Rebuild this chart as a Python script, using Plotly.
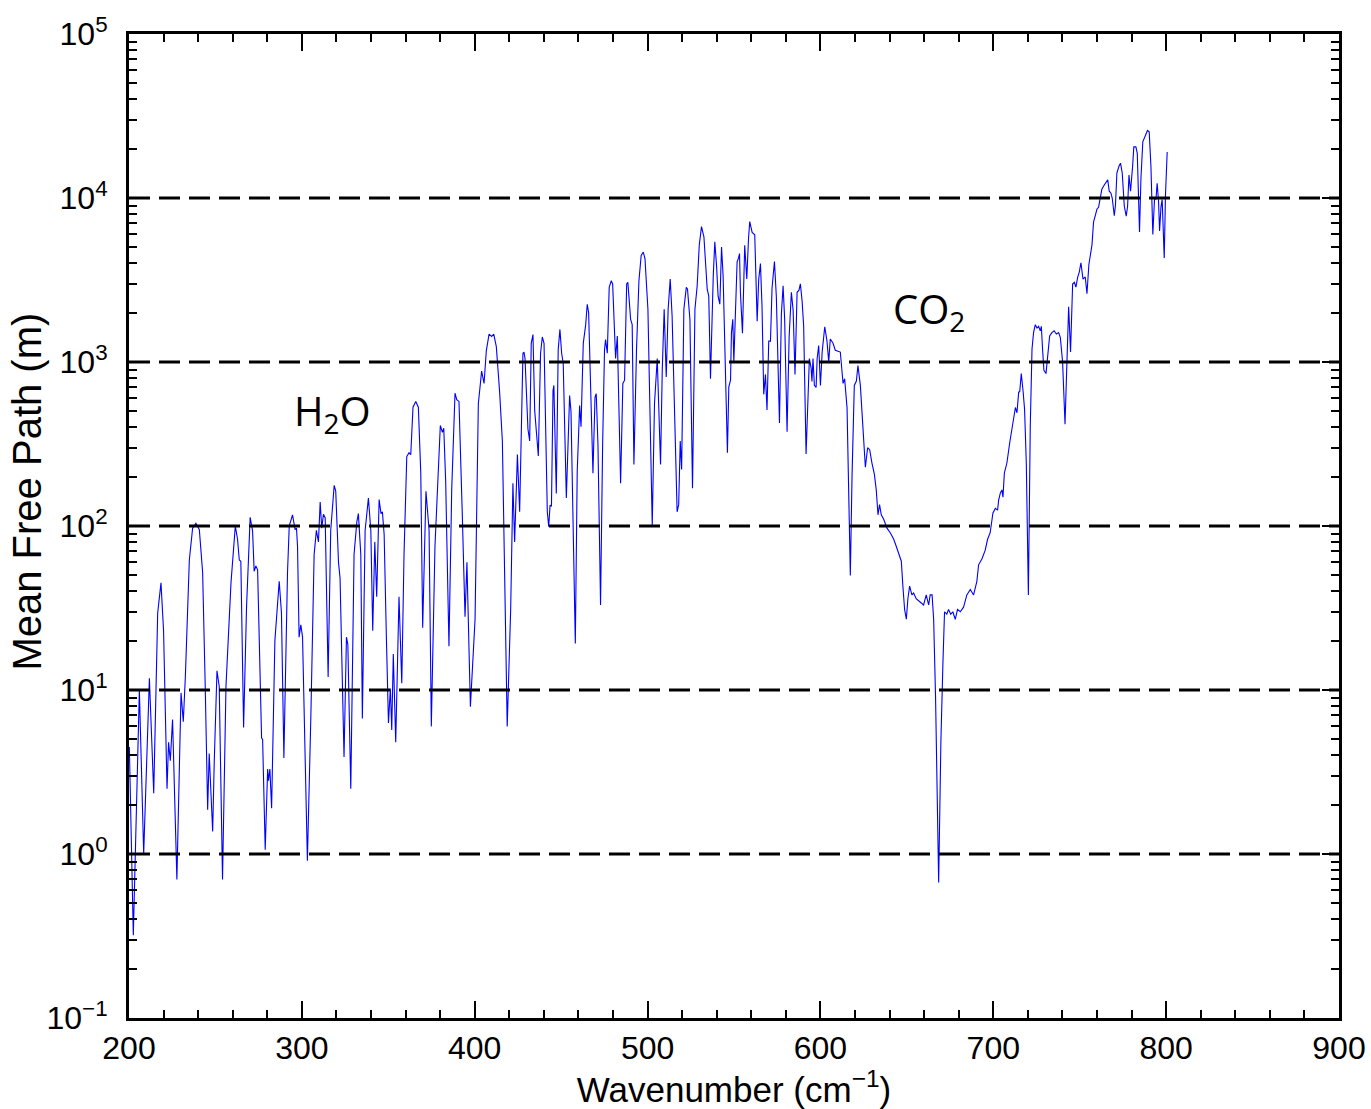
import math
import plotly.graph_objects as go

# ---- data (wavenumber in cm^-1, mean free path in m) ----
wavenumber = [
    200.2, 202.5, 206.0, 208.5, 211.8, 214.3, 216.6, 218.5, 220.0, 222.0, 222.9, 223.9, 225.2, 227.7,
    230.1, 231.4, 232.6, 234.9, 236.8, 238.7, 240.7, 242.6, 244.1, 245.5, 246.4, 248.4, 249.3, 250.9,
    252.2, 254.1, 256.1, 259.0, 261.5, 262.8, 263.8, 264.7, 266.3, 268.0, 270.1, 271.5, 272.4, 273.4,
    274.4, 275.3, 276.7, 277.3, 278.8, 280.2, 280.7, 281.5, 282.5, 284.4, 286.9, 288.2, 289.6, 291.7,
    292.7, 294.6, 296.1, 296.9,
    297.5, 298.4, 299.4, 300.4, 303.2, 305.2, 307.1, 308.4, 309.6, 310.6, 311.5, 312.5, 313.5, 315.2,
    316.7, 318.7, 319.6, 321.2, 322.1, 323.1, 324.4, 325.8, 326.6, 328.3, 330.2, 331.8, 332.7, 334.1,
    335.0, 336.6, 338.5, 339.9, 341.0, 342.2, 343.3, 344.7, 345.8, 346.6, 347.6, 348.9, 350.1, 351.2,
    352.0, 352.9, 353.5, 354.3, 356.2, 357.8, 359.1, 360.7, 362.0, 363.0, 364.3, 365.9, 367.4, 368.8,
    369.9, 371.8, 373.6, 374.9, 377.0, 378.4, 380.1, 381.3, 382.1, 383.2, 385.1, 386.7, 388.6, 389.6,
    390.9, 392.8, 394.4, 395.5, 397.5, 400.2, 402.1, 404.0, 405.4, 406.7, 408.3, 409.8, 411.0, 412.5,
    414.4, 416.0, 418.8,
    420.8, 422.1, 423.1, 424.7, 426.0, 427.9, 428.5, 429.1, 430.8, 431.8, 432.7, 433.7, 434.7, 436.8,
    438.1, 439.1, 440.1, 442.0, 442.8, 443.6, 444.4, 445.3, 445.8, 447.2, 448.3, 449.3, 450.3, 451.2,
    453.0, 454.9, 455.7, 456.8, 458.2, 459.3, 460.7, 461.5, 462.8, 464.2, 465.1, 465.9, 467.0, 468.4,
    469.6, 470.3, 471.3, 472.8, 474.0, 475.1, 475.7, 476.7, 477.8, 479.0, 479.8, 480.9, 481.5, 482.5,
    484.4, 485.7, 486.7, 487.9, 488.6, 490.2, 491.1, 492.1, 493.6, 495.0, 496.3, 497.5, 498.5, 500.2,
    502.7, 504.0, 505.6, 507.5, 508.5, 509.6, 510.8, 511.9, 513.1, 514.2, 515.2, 516.2, 517.1, 518.0,
    518.9, 519.7, 521.0, 522.4, 523.1, 524.5, 526.0, 527.4, 528.7, 529.9, 531.2, 532.6, 533.7, 534.5,
    535.4, 536.4, 538.0, 538.9, 539.9, 540.8, 541.8, 542.8, 543.7, 545.1, 546.2, 547.0, 548.0, 548.5,
    549.3, 549.9, 550.9, 551.8, 552.6, 553.2, 553.7, 554.9, 556.2, 557.4, 558.4, 559.1,
    560.5, 562.0, 563.4, 564.3, 565.3, 566.2, 567.2, 568.2, 569.1, 570.1, 571.1, 572.0, 573.4, 574.5,
    576.3, 577.4, 578.4, 579.3, 580.7, 581.9, 583.2, 584.2, 585.3, 586.5, 587.6, 588.4, 589.4, 590.3,
    591.7, 592.6, 593.6, 594.6, 595.1, 595.7, 596.5, 597.5, 598.1, 599.0, 600.0, 601.0, 602.5, 603.8,
    604.8, 605.7, 607.3, 608.6, 610.0, 611.5, 613.1, 614.0, 615.4, 616.5, 617.3, 618.3, 619.6, 620.8,
    621.7, 623.1, 624.4, 626.0, 627.3, 628.5, 629.8, 631.2, 632.3, 633.3, 634.2, 635.2, 636.6, 638.5,
    640.4, 642.4, 643.7, 645.2, 646.8, 647.7, 648.7, 649.7, 650.6, 651.6, 652.9, 653.9, 655.4, 656.8,
    658.3, 659.7, 661.2, 662.6, 663.5, 664.6, 665.5, 666.6, 668.4, 669.7, 670.9, 671.8, 673.1, 674.1,
    675.4, 676.6, 678.0, 679.3, 680.9, 682.8, 684.7, 686.7, 688.6, 690.5, 691.5, 693.4, 695.3, 696.7,
    698.2,
    699.8, 701.2, 702.5, 703.1, 704.1, 705.0, 705.6, 706.4, 707.9, 709.5, 710.8, 711.8, 712.8, 713.7,
    714.7, 715.3, 716.2, 717.2, 718.1, 719.1, 720.3, 721.4, 722.4, 723.3, 724.3, 725.3, 726.2, 727.2,
    727.8, 728.5, 729.3, 730.5, 731.4, 732.6, 733.9, 735.2, 736.5, 737.8, 738.8, 740.1, 741.5, 742.6,
    743.6, 744.7, 745.9, 746.9, 747.8, 748.8, 749.7, 750.7, 751.9, 753.2, 754.2, 755.3, 756.1, 757.1,
    758.0, 759.2, 760.0, 760.9, 761.9, 762.8, 764.2, 765.4, 766.2, 767.1, 768.1, 768.8, 770.0, 770.7,
    771.5, 772.7, 773.6, 774.6, 775.8, 776.9, 777.7, 778.5, 779.4, 780.6, 781.3, 782.5, 783.3, 784.6,
    785.4, 786.5, 787.9, 789.2, 790.2, 791.2, 792.3, 793.3, 794.1, 794.8, 795.6, 796.2, 797.0, 797.7,
    798.3, 798.9, 799.6, 800.6,
]

mean_free_path = [
    4.5, 0.32, 10, 1.0, 11.8, 2.35, 29.5, 45, 23, 2.5, 4.8, 3.7, 6.6, 0.70,
    9.6, 6.4, 12, 62, 97, 104, 95, 52, 10.5, 1.86, 4.1, 1.37, 3.6, 13.1,
    10.5, 0.70, 10.5, 45, 100, 83, 62, 61, 5.9, 32, 113, 93, 53, 57,
    54, 19.4, 5.1, 5.0, 1.06, 3.3, 2.8, 3.3, 1.9, 20, 46, 29.5, 3.85, 52,
    100, 117, 95, 97,
    75, 21, 25, 21, 0.91, 6.9, 67, 94, 80, 140, 97, 118, 112, 12,
    94, 177, 163, 60, 48, 16, 3.9, 21, 19, 2.5, 67, 106, 119, 67,
    6.7, 94, 148, 94, 23, 80, 37, 145, 119, 122, 89, 21, 6.3, 10.2,
    5.7, 16.6, 8.6, 4.8, 37, 11, 67, 265, 280, 272, 530, 575, 530, 210,
    24, 163, 94, 6.0, 75, 158, 410, 373, 395, 188, 18.5, 167, 645, 590,
    575, 119, 28, 60, 7.9, 27, 557, 880, 740, 1170, 1480, 1430, 1480, 1240,
    660, 330, 6.0,
    31, 182, 80, 273, 122, 1130, 1150, 1050, 390, 330, 1300, 1470, 505, 267,
    1130, 1420, 1300, 122, 99, 134, 132, 670, 720, 158, 1190, 1580, 1130, 980,
    148, 625, 500, 122, 19.2, 215, 543, 403, 1300, 1690, 2250, 2000, 810, 210,
    610, 640, 315, 33, 315, 1190, 1370, 1130, 2850, 3130, 2990, 1430, 1050, 1440,
    182, 740, 775, 2990, 3060, 1820, 1690, 237, 1190, 3130, 4470, 4680, 4270, 2100,
    101, 556, 1050, 237, 890, 2100, 810, 2100, 3210, 1900, 670, 315, 122, 135,
    330, 221, 2100, 2850, 2780, 1820, 170, 2100, 2920, 5150, 6690, 5800, 3870, 2780,
    2520, 790, 3360, 5400, 3870, 2520, 2250, 5020, 3360, 940, 280, 705, 775, 1500,
    1820, 1000, 2100, 4080, 4300, 4580, 2660, 1500, 5150, 3210, 5660, 7180,
    6170, 5970, 1770, 3200, 3980, 2200, 635, 840, 510, 1340, 1340, 2820, 4100, 2500,
    425, 1950, 2920, 1830, 375, 1430, 2660, 2070, 840, 2660, 2740, 3000, 2350, 1660,
    275, 525, 1050, 920, 760, 1050, 720, 700, 1050, 1260, 720, 1150, 1640, 1340,
    1000, 1380, 1300, 1180, 1170, 1150, 740, 790, 525, 150, 50, 205, 720, 765,
    950, 720, 440, 228, 300, 292, 242, 207, 166, 117, 135, 117, 110, 97,
    91, 83, 76, 69, 61, 43, 31, 27, 36, 43, 38, 39, 36, 35,
    34, 33, 38, 33, 38, 38, 27, 9.1, 0.67, 4.9, 15, 30, 29, 31,
    29, 30, 27, 31, 30, 32, 38, 41, 38, 46, 58, 63, 71, 83,
    91,
    120, 128, 125, 144, 159, 166, 150, 210, 243, 322, 390, 427, 528, 490,
    655, 660, 850, 670, 515, 243, 38, 410, 1200, 1510, 1690, 1610, 1650, 1550,
    1650, 1200, 890, 850, 1050, 1440, 1510, 1550, 1480, 1510, 1410, 1000, 417, 1200,
    2170, 1150, 2990, 3060, 2860, 3280, 3520, 4030, 3200, 3300, 2610, 3930, 4520, 5180,
    7130, 8190, 8570, 8770, 10000, 11300, 12000, 12600, 12900, 11000, 10700, 10000, 7800, 9100,
    14200, 15600, 16300, 14200, 8900, 7750, 8900, 13800, 11000, 15600, 20500, 20500, 18700, 6200,
    13000, 22000, 24000, 25800, 25300, 15600, 6000, 10000, 9800, 12300, 9600, 6300, 8800, 9800,
    6500, 4300, 10300, 19100,
]

x_ticks = [200, 300, 400, 500, 600, 700, 800, 900]
y_ticks = [0.1, 1, 10, 100, 1000, 10000, 100000]
y_tick_text = ["10<sup>\u22121</sup>", "10<sup>0</sup>", "10<sup>1</sup>", "10<sup>2</sup>",
               "10<sup>3</sup>", "10<sup>4</sup>", "10<sup>5</sup>"]
reference_levels = [1, 10, 100, 1000, 10000]
labels = ["H<sub>2</sub>O", "CO<sub>2</sub>"]
label_x = [318, 663]
label_y = [490, 2050]

y_minor = [m * d for d in [0.1, 1, 10, 100, 1000, 10000] for m in range(2, 10)]

FONT = "Liberation Sans, Arial, Helvetica, sans-serif"

fig = go.Figure()
fig.add_trace(go.Scatter(x=wavenumber, y=mean_free_path, mode="lines",
                         line=dict(color="#0000ff", width=1.1), showlegend=False))

for lvl in reference_levels:
    fig.add_shape(type="line", xref="paper", x0=0, x1=1, yref="y", y0=lvl, y1=lvl,
                  line=dict(color="black", width=2.8, dash="21px,9px"), layer="above")

for t, x, y in zip(labels, label_x, label_y):
    fig.add_annotation(x=x, y=math.log10(y), xref="x", yref="y", text=t, showarrow=False,
                       font=dict(family="Open Sans, sans-serif", size=40, color="black"))

# y-axis title drawn as a rotated annotation so it can sit where the reference puts it
fig.add_annotation(xref="paper", yref="paper", x=0, y=0.535, xshift=-102, textangle=-90,
                   text="Mean Free Path (m)", showarrow=False, xanchor="center", yanchor="middle",
                   font=dict(family=FONT, size=40, color="black"))

fig.update_layout(
    width=1371, height=1109,
    margin=dict(l=129, r=32, t=34, b=91, autoexpand=False),
    paper_bgcolor="white", plot_bgcolor="white",
    font=dict(family=FONT, color="black"),
    xaxis=dict(range=[200, 900], tickmode="array", tickvals=x_ticks, automargin=False,
               ticks="inside", ticklen=17, tickwidth=2, tickcolor="black",
               showline=True, linewidth=3, linecolor="black", mirror="allticks",
               showgrid=False, zeroline=False,
               minor=dict(ticks="inside", ticklen=8, tickwidth=2, tickcolor="black",
                          dtick=20, tick0=200, showgrid=False),
               tickfont=dict(size=32, family=FONT),
               title=dict(text="Wavenumber (cm<sup>\u22121</sup>)", font=dict(size=35, family=FONT),
                          standoff=1)),
    yaxis=dict(type="log", range=[-1, 5], tickmode="array", tickvals=y_ticks, ticktext=y_tick_text,
               automargin=False,
               ticks="inside", ticklen=17, tickwidth=2, tickcolor="black",
               showline=True, linewidth=3, linecolor="black", mirror="allticks",
               showgrid=False, zeroline=False, ticklabelstandoff=12,
               minor=dict(ticks="inside", ticklen=8, tickwidth=2, tickcolor="black",
                          tickmode="array", tickvals=y_minor, showgrid=False),
               tickfont=dict(size=32, family=FONT)),
)

fig.write_html("out.html")
